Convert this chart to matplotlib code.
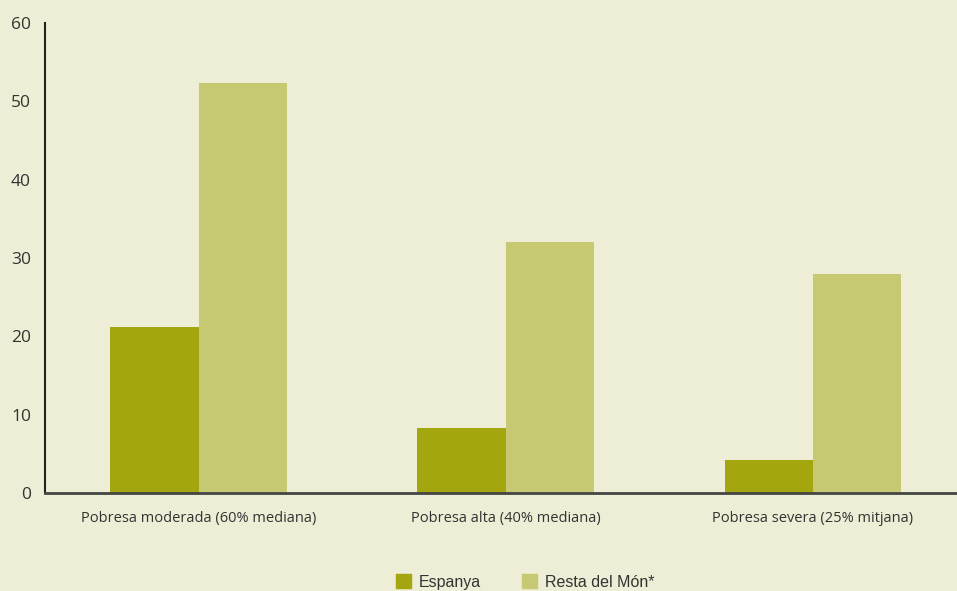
import numpy as np
import matplotlib
matplotlib.use('Agg')
import matplotlib.pyplot as plt
from matplotlib.patches import Patch

categories = ['Pobresa moderada (60% mediana)', 'Pobresa alta (40% mediana)',
              'Pobresa severa (25% mitjana)']
espanya = [21.2, 8.3, 4.2]
resta_mon = [52.4, 32.0, 28.0]
series_names = ['Espanya', 'Resta del Món*']
y_ticks = [0, 10, 20, 30, 40, 50, 60]

bg = '#EEEDD5'
c_dark = '#A3A60F'
c_light = '#C7C872'
txt = '#333333'

fig = plt.figure(figsize=(9.57, 5.91), dpi=100, facecolor=bg)
ax = fig.add_axes([45 / 957, 98 / 591, 1 - 45 / 957, 470 / 591], facecolor=bg)

x = np.arange(len(categories))
w = 0.287
ax.bar(x - w / 2, espanya, width=w, color=c_dark, label=series_names[0])
ax.bar(x + w / 2, resta_mon, width=w, color=c_light, label=series_names[1])

ax.set_xlim(-0.5, 2.47)
ax.set_ylim(0, 60)
ax.set_yticks(y_ticks)
ax.set_xticks(x)
ax.set_xticklabels(categories, fontsize=10.5, color=txt, family='Open Sans')
for lab in ax.get_yticklabels():
    lab.set_fontsize(12.5)
    lab.set_color(txt)
    lab.set_family('Open Sans')
ax.tick_params(axis='both', length=0)
ax.tick_params(axis='x', pad=13)
ax.tick_params(axis='y', pad=10)

for s in ['top', 'right']:
    ax.spines[s].set_visible(False)
ax.spines['left'].set_color('#222222')
ax.spines['bottom'].set_color('#444444')
ax.spines['left'].set_linewidth(1.5)
ax.spines['bottom'].set_linewidth(2)

handles = [Patch(color=c_dark), Patch(color=c_light)]
fig.legend(handles, series_names, loc='center left',
           bbox_to_anchor=(382 / 957, 1 - 582 / 591), ncol=2, frameon=False,
           prop={'family': 'Liberation Sans', 'size': 11.5},
           handlelength=0.9, handleheight=0.9, columnspacing=2.6,
           handletextpad=0.5, labelcolor=txt)

fig.savefig('out.png', dpi=100, facecolor=bg)
